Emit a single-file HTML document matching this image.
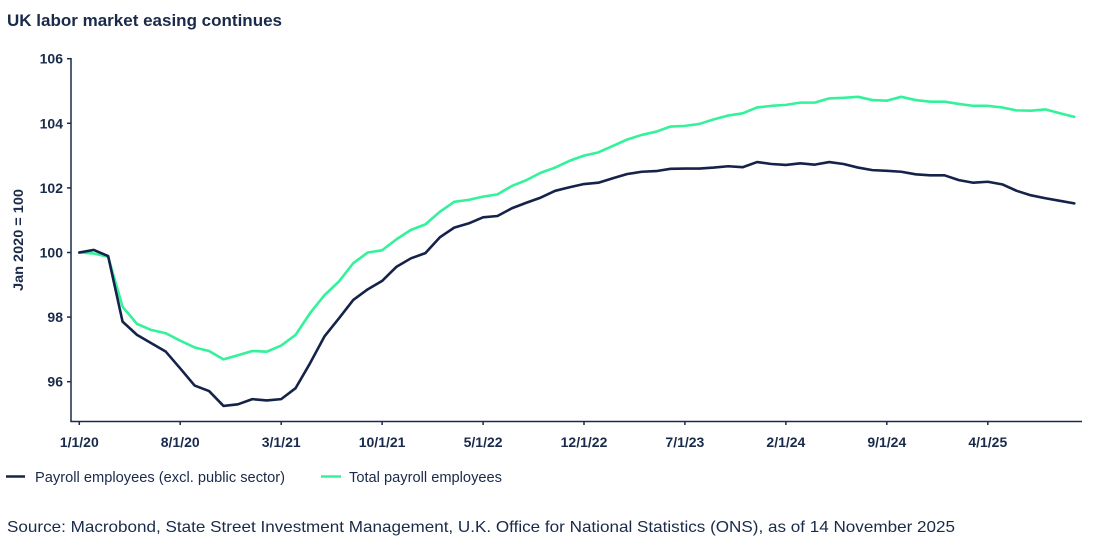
<!DOCTYPE html>
<html>
<head>
<meta charset="utf-8">
<style>
  html,body{margin:0;padding:0;background:#fff;}
  body{width:1100px;height:550px;overflow:hidden;}
  svg{display:block;font-family:"Liberation Sans",Arial,sans-serif;}
  text{fill:#1a2a4a;}
</style>
</head>
<body>
<svg width="1100" height="550" viewBox="0 0 1100 550" xmlns="http://www.w3.org/2000/svg">
  <rect x="0" y="0" width="1100" height="550" fill="#ffffff"/>
  <!-- Title -->
  <text x="7" y="26" font-size="17" font-weight="bold" textLength="275" lengthAdjust="spacingAndGlyphs">UK labor market easing continues</text>

  <!-- Y axis label -->
  <text transform="translate(23,240) rotate(-90)" text-anchor="middle" font-size="14" font-weight="bold" textLength="102" lengthAdjust="spacingAndGlyphs">Jan 2020 = 100</text>

  <!-- Axes -->
  <g stroke="#1a2a4a" stroke-width="1.5" fill="none">
    <line x1="71" y1="58" x2="71" y2="421.5"/>
    <line x1="70.3" y1="421.5" x2="1082" y2="421.5"/>
    <!-- y ticks -->
    <line x1="67" y1="58.7" x2="71" y2="58.7"/>
    <line x1="67" y1="123.3" x2="71" y2="123.3"/>
    <line x1="67" y1="187.9" x2="71" y2="187.9"/>
    <line x1="67" y1="252.5" x2="71" y2="252.5"/>
    <line x1="67" y1="317.1" x2="71" y2="317.1"/>
    <line x1="67" y1="381.7" x2="71" y2="381.7"/>
    <!-- x ticks -->
    <line x1="79.3" y1="421.5" x2="79.3" y2="425"/>
    <line x1="180.2" y1="421.5" x2="180.2" y2="425"/>
    <line x1="281.2" y1="421.5" x2="281.2" y2="425"/>
    <line x1="382.1" y1="421.5" x2="382.1" y2="425"/>
    <line x1="483.1" y1="421.5" x2="483.1" y2="425"/>
    <line x1="584.0" y1="421.5" x2="584.0" y2="425"/>
    <line x1="684.9" y1="421.5" x2="684.9" y2="425"/>
    <line x1="785.9" y1="421.5" x2="785.9" y2="425"/>
    <line x1="886.8" y1="421.5" x2="886.8" y2="425"/>
    <line x1="987.8" y1="421.5" x2="987.8" y2="425"/>
  </g>

  <!-- Y tick labels -->
  <g font-size="14" font-weight="bold" text-anchor="end">
    <text x="63" y="63.7">106</text>
    <text x="63" y="128.3">104</text>
    <text x="63" y="192.9">102</text>
    <text x="63" y="257.5">100</text>
    <text x="63" y="322.1">98</text>
    <text x="63" y="386.7">96</text>
  </g>

  <!-- X tick labels -->
  <g font-size="14" font-weight="bold" text-anchor="middle">
    <text x="79.3" y="447">1/1/20</text>
    <text x="180.2" y="447">8/1/20</text>
    <text x="281.2" y="447">3/1/21</text>
    <text x="382.1" y="447">10/1/21</text>
    <text x="483.1" y="447">5/1/22</text>
    <text x="584.0" y="447">12/1/22</text>
    <text x="684.9" y="447">7/1/23</text>
    <text x="785.9" y="447">2/1/24</text>
    <text x="886.8" y="447">9/1/24</text>
    <text x="987.8" y="447">4/1/25</text>
  </g>

  <!-- Series: x = 79.3 + m*14.42 ; y = 3482.5 - 32.3*v -->
  <g transform="translate(79.3,3482.5) scale(14.42,-32.3)" fill="none" stroke-linejoin="round" stroke-linecap="round">
    <polyline vector-effect="non-scaling-stroke" stroke="#33f29a" stroke-width="2.6" points="
      0,100.0 1,99.97 2,99.87 3,98.32 4,97.79 5,97.60 6,97.50 7,97.27 8,97.06 9,96.95
      10,96.69 11,96.82 12,96.95 13,96.93 14,97.12 15,97.45 16,98.12 17,98.68 18,99.10 19,99.67
      20,100.0 21,100.07 22,100.41 23,100.70 24,100.87 25,101.26 26,101.57 27,101.63 28,101.73 29,101.80
      30,102.06 31,102.24 32,102.47 33,102.63 34,102.84 35,103.00 36,103.10 37,103.30 38,103.50 39,103.64
      40,103.74 41,103.90 42,103.92 43,103.98 44,104.12 45,104.24 46,104.31 47,104.49 48,104.54 49,104.57
      50,104.64 51,104.64 52,104.77 53,104.79 54,104.82 55,104.72 56,104.70 57,104.82 58,104.72 59,104.67
      60,104.67 61,104.60 62,104.54 63,104.54 64,104.49 65,104.40 66,104.39 67,104.43 68,104.31 69,104.20"/>
    <polyline vector-effect="non-scaling-stroke" stroke="#15234a" stroke-width="2.6" points="
      0,100.0 1,100.08 2,99.89 3,97.86 4,97.45 5,97.19 6,96.93 7,96.41 8,95.88 9,95.71
      10,95.25 11,95.30 12,95.46 13,95.42 14,95.46 15,95.80 16,96.57 17,97.40 18,97.96 19,98.53
      20,98.86 21,99.12 22,99.56 23,99.82 24,99.98 25,100.47 26,100.77 27,100.90 28,101.09 29,101.13
      30,101.37 31,101.54 32,101.70 33,101.91 34,102.02 35,102.12 36,102.16 37,102.30 38,102.43 39,102.50
      40,102.52 41,102.59 42,102.60 43,102.60 44,102.63 45,102.67 46,102.64 47,102.80 48,102.74 49,102.71
      50,102.76 51,102.72 52,102.80 53,102.74 54,102.63 55,102.55 56,102.53 57,102.50 58,102.42 59,102.39
      60,102.39 61,102.24 62,102.16 63,102.19 64,102.11 65,101.91 66,101.77 67,101.68 68,101.60 69,101.52"/>
  </g>

  <!-- Legend -->
  <line x1="6" y1="476.5" x2="25" y2="476.5" stroke="#15234a" stroke-width="2.6"/>
  <text x="35" y="482" font-size="14.5" textLength="250" lengthAdjust="spacingAndGlyphs">Payroll employees (excl. public sector)</text>
  <line x1="321" y1="476.5" x2="341" y2="476.5" stroke="#33f29a" stroke-width="2.6"/>
  <text x="349" y="482" font-size="14.5" textLength="153" lengthAdjust="spacingAndGlyphs">Total payroll employees</text>

  <!-- Source -->
  <text x="7" y="532" font-size="16" textLength="948" lengthAdjust="spacingAndGlyphs">Source: Macrobond, State Street Investment Management, U.K. Office for National Statistics (ONS), as of 14 November 2025</text>
</svg>
</body>
</html>
